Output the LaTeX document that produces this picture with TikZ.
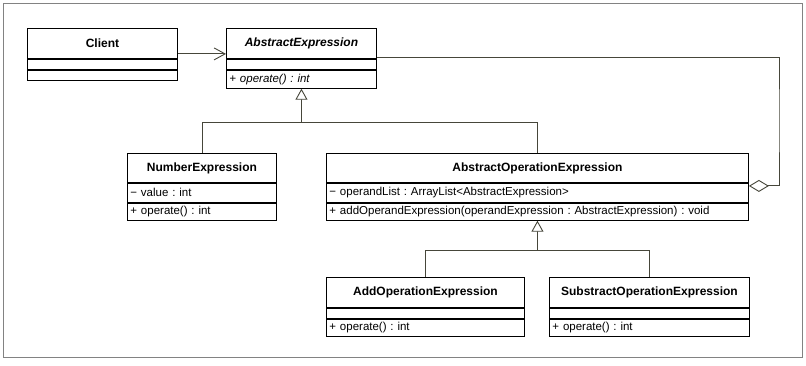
\documentclass[tikz,border=0pt]{standalone}
\usepackage{fontspec}
\setmainfont{Liberation Sans}
\usetikzlibrary{positioning, arrows.meta}
\frenchspacing

\definecolor{linkgray}{RGB}{70,70,58}
\definecolor{framegray}{RGB}{130,130,130}

\begin{document}
\begin{tikzpicture}[x=1pt, y=-1pt,
    every node/.style={font=\fontsize{11.5}{13}\selectfont},
    classname/.style={draw, line width=0.9pt, inner sep=0pt, anchor=north west,
        font=\fontsize{12}{14}\selectfont\bfseries},
    classpart/.style={draw, line width=0.9pt, inner xsep=3pt, inner ysep=0pt, align=left},
    link/.style={draw=linkgray, line width=0.9pt},
    assoc/.style={link, -{Straight Barb[length=11pt, width=12pt]}},
    inherit/.style={link, -{Triangle[open, length=11pt, width=12pt, fill=white]}},
    aggregate/.style={link, -{Diamond[open, length=20pt, width=12pt, fill=white]}}]

    % ================= 外框 =================
    \useasboundingbox (0,0) rectangle (806,365);
    \draw[framegray, line width=0.9pt] (3,3) rectangle (802,357);

    % ================= Client =================
    \node[classname, minimum width=150pt, minimum height=30pt] (clientN) at (27,28) {Client};
    \node[classpart, minimum width=150pt, minimum height=10pt, below=0pt of clientN] (clientA) {};
    \node[classpart, minimum width=150pt, minimum height=10pt, below=0pt of clientA] (clientO) {};

    % ================= AbstractExpression =================
    \node[classname, minimum width=150pt, minimum height=30pt] (absN) at (226,28) {\itshape AbstractExpression};
    \node[classpart, minimum width=150pt, minimum height=10pt, below=0pt of absN] (absA) {};
    \node[classpart, text width=144pt, minimum height=18pt, below=0pt of absA] (absO) {\itshape + operate() : int};

    % ================= NumberExpression =================
    \node[classname, minimum width=149pt, minimum height=29pt] (numN) at (127,153) {NumberExpression};
    \node[classpart, text width=143pt, minimum height=19pt, below=0pt of numN] (numA) {− value : int};
    \node[classpart, text width=143pt, minimum height=17pt, below=0pt of numA] (numO) {+ operate() : int};

    % ================= AbstractOperationExpression =================
    \node[classname, minimum width=422pt, minimum height=29pt] (aoeN) at (326,153) {AbstractOperationExpression};
    \node[classpart, text width=416pt, minimum height=19pt, below=0pt of aoeN] (aoeA)
        {− operandList : ArrayList<AbstractExpression>};
    \node[classpart, text width=416pt, minimum height=17pt, below=0pt of aoeA] (aoeO)
        {+ addOperandExpression(operandExpression : AbstractExpression) : void};

    % ================= AddOperationExpression =================
    \node[classname, minimum width=198pt, minimum height=30pt] (addN) at (326,277) {AddOperationExpression};
    \node[classpart, minimum width=198pt, minimum height=10pt, below=0pt of addN] (addA) {};
    \node[classpart, text width=192pt, minimum height=17pt, below=0pt of addA] (addO) {+ operate() : int};

    % ================= SubstractOperationExpression =================
    \node[classname, minimum width=200pt, minimum height=30pt] (subN) at (549,277) {SubstractOperationExpression};
    \node[classpart, minimum width=200pt, minimum height=10pt, below=0pt of subN] (subA) {};
    \node[classpart, text width=194pt, minimum height=17pt, below=0pt of subA] (subO) {+ operate() : int};

    % ================= 关系 =================
    % 关联: Client -> AbstractExpression
    \draw[assoc] ([yshift=5pt]clientN.south east) -- ([yshift=5pt]absN.south west);

    % 聚合: AbstractExpression <>- AbstractOperationExpression
    \coordinate (loop) at (779,120);
    \draw[aggregate] ([yshift=1pt]absN.south east) -| (loop) |- ([yshift=-3pt]aoeN.south east);

    % 继承: 第一层
    \coordinate (fork1) at ([yshift=-34pt]absO.south);
    \draw[link] (numN.north) |- (fork1) -| (aoeN.north);
    \draw[inherit] (fork1) -- (absO.south);

    % 继承: 第二层
    \coordinate (fork2) at ([yshift=-30pt]aoeO.south);
    \draw[link] (addN.north) |- (fork2) -| (subN.north);
    \draw[inherit] (fork2) -- (aoeO.south);

\end{tikzpicture}
\end{document}
